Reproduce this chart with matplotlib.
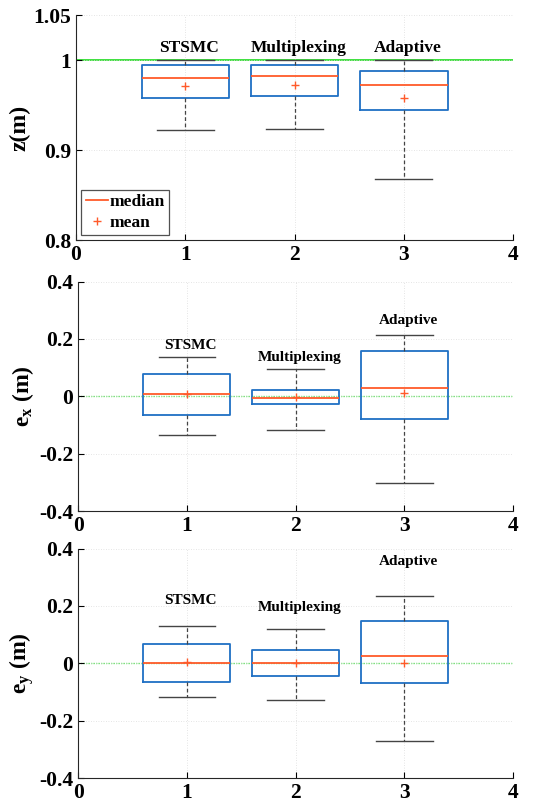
import numpy as np
import matplotlib
matplotlib.use("Agg")
import matplotlib.pyplot as plt
from matplotlib.lines import Line2D

plt.rcParams['font.family'] = ['Liberation Serif', 'DejaVu Serif']
plt.rcParams['font.weight'] = 'bold'
plt.rcParams['mathtext.fontset'] = 'custom'
plt.rcParams['mathtext.rm'] = 'Liberation Serif:bold'
plt.rcParams['mathtext.it'] = 'Liberation Serif:bold'
plt.rcParams['mathtext.bf'] = 'Liberation Serif:bold'

# controllers
methods = ["STSMC", "Multiplexing", "Adaptive"]

# z (m) statistics
z_q1 = [0.9585, 0.9608, 0.9444]
z_q3 = [0.9952, 0.9950, 0.9880]
z_med = [0.9800, 0.9826, 0.9730]
z_mean = [0.9715, 0.9730, 0.9580]
z_lo = [0.9226, 0.9233, 0.8685]
z_hi = [1.0000, 1.0000, 1.0000]

# e_x (m) statistics
ex_q1 = [-0.063, -0.028, -0.077]
ex_q3 = [0.079, 0.024, 0.157]
ex_med = [0.008, -0.004, 0.031]
ex_mean = [0.010, -0.003, 0.012]
ex_lo = [-0.135, -0.117, -0.303]
ex_hi = [0.138, 0.095, 0.215]

# e_y (m) statistics
ey_q1 = [-0.064, -0.045, -0.068]
ey_q3 = [0.067, 0.046, 0.148]
ey_med = [0.003, 0.001, 0.024]
ey_mean = [0.006, 0.000, 0.001]
ey_lo = [-0.118, -0.128, -0.271]
ey_hi = [0.131, 0.119, 0.235]

BLUE = '#1f6fc4'
RED = '#ff5a2a'
GREEN = '#3ee03e'


def stats(q1, q3, med, mean, lo, hi):
    return [dict(q1=q1[i], q3=q3[i], med=med[i], mean=mean[i],
                 whislo=lo[i], whishi=hi[i], fliers=[], label=methods[i])
            for i in range(len(q1))]


def draw(ax, st, ref_style, label_off, label_size):
    ax.bxp(st, positions=[1, 2, 3], widths=0.8, capwidths=0.52,
           showmeans=True, showfliers=False, manage_ticks=False,
           boxprops=dict(color=BLUE, linewidth=1.3),
           medianprops=dict(color=RED, linewidth=1.3),
           meanprops=dict(marker='+', markeredgecolor=RED, markersize=6,
                          markeredgewidth=1.0),
           whiskerprops=dict(color='#444444', linestyle=(0, (3, 2)), linewidth=0.9),
           capprops=dict(color='#444444', linewidth=1.0))
    if ref_style == 'solid':
        ax.axhline(1.0, color=GREEN, lw=1.4, zorder=1)
    else:
        ax.axhline(0, color='#22dd22', lw=0.9, ls=(0, (1, 1)), zorder=1)
    for i, s in enumerate(st):
        ax.annotate(s['label'], (i + 1, s['whishi']), xytext=(4, label_off[i]),
                    textcoords='offset pixels', ha='center', va='center',
                    fontsize=label_size, fontweight='bold')
    ax.set_xlim(0, 4)
    ax.set_xticks([0, 1, 2, 3, 4])
    ax.grid(True, color='#dcdcdc', ls=(0, (1, 2)), lw=0.6)
    ax.spines['top'].set_visible(False)
    ax.spines['right'].set_visible(False)
    for sp in ('left', 'bottom'):
        ax.spines[sp].set_color('#262626')
    ax.tick_params(direction='in', length=4, labelsize=15.5, width=0.8)
    for t in ax.get_xticklabels() + ax.get_yticklabels():
        t.set_fontweight('bold')


fig = plt.figure(figsize=(5.43, 8.09), dpi=100)
ax1 = fig.add_axes([0.140, 0.703, 0.805, 0.278])
ax2 = fig.add_axes([0.144, 0.368, 0.801, 0.284])
ax3 = fig.add_axes([0.144, 0.038, 0.801, 0.284])

draw(ax1, stats(z_q1, z_q3, z_med, z_mean, z_lo, z_hi), 'solid', [12, 12, 12], 12.5)
ax1.set_ylim(0.8, 1.05)
ax1.set_yticks([0.8, 0.9, 1.0, 1.05])
ax1.set_yticklabels(['0.8', '0.9', '1', '1.05'])
ax1.set_ylabel('z(m)', fontsize=17, fontweight='bold', labelpad=2)
leg = ax1.legend([Line2D([], [], color=RED, lw=1.3),
                  Line2D([], [], color=RED, marker='+', ls='none', markersize=6)],
                 ['median', 'mean'], loc='lower left', fontsize=12.5,
                 handlelength=1.3, handletextpad=0.1, borderpad=0.25,
                 labelspacing=0.25, fancybox=False, edgecolor='#262626',
                 borderaxespad=0.3)
leg.get_frame().set_linewidth(0.9)
for t in leg.get_texts():
    t.set_fontweight('bold')

draw(ax2, stats(ex_q1, ex_q3, ex_med, ex_mean, ex_lo, ex_hi), 'dotted', [11, 12, 14], 11)
ax2.set_ylim(-0.4, 0.4)
ax2.set_yticks([-0.4, -0.2, 0, 0.2, 0.4])
ax2.set_yticklabels(['-0.4', '-0.2', '0', '0.2', '0.4'])
ax2.set_ylabel('e$_{x}$ (m)', fontsize=17, fontweight='bold', labelpad=2)

draw(ax3, stats(ey_q1, ey_q3, ey_med, ey_mean, ey_lo, ey_hi), 'dotted', [25, 22, 34], 11)
ax3.set_ylim(-0.4, 0.4)
ax3.set_yticks([-0.4, -0.2, 0, 0.2, 0.4])
ax3.set_yticklabels(['-0.4', '-0.2', '0', '0.2', '0.4'])
ax3.set_ylabel('e$_{y}$ (m)', fontsize=17, fontweight='bold', labelpad=2)

fig.savefig('out.png', dpi=100)
